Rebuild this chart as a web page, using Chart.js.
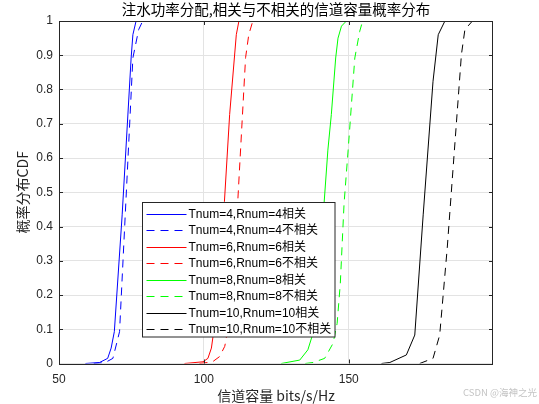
<!DOCTYPE html>
<html lang="zh">
  <head>
    <meta charset="UTF-8" />
    <title>注水功率分配 信道容量CDF</title>
    <script src="https://cdn.jsdelivr.net/npm/chart.js"></script>
    <style>
      html, body { margin: 0; padding: 0; background: #ffffff; }
      #wrap { width: 539px; height: 404px; }
    </style>
  </head>
  <body>
    <div id="wrap"><canvas id="cdf" width="539" height="404"></canvas></div>
    <script>
      // 信道容量 (bits/s/Hz) 与对应的 CDF 值
      const capT4Corr = [59.1, 64.0, 66.8, 68.0, 69.1, 71.8, 74.9, 75.5, 76.6];
      const cdfT4Corr = [0, 0.003, 0.015, 0.045, 0.093, 0.434, 0.892, 0.96, 1.0];
      const capT4Uncorr = [62.0, 66.0, 68.6, 70.9, 75.5, 77.5, 78.9];
      const cdfT4Uncorr = [0, 0.003, 0.015, 0.093, 0.892, 0.975, 1.0];

      const capT6Corr = [93.3, 99.7, 101.4, 102.6, 103.1, 107.1, 108.9, 111.2, 112.1];
      const cdfT6Corr = [0, 0.005, 0.015, 0.045, 0.075, 0.473, 0.727, 0.96, 1.0];
      const capT6Uncorr = [98.5, 103.0, 105.4, 107.2, 107.7, 111.7, 114.4, 115.5, 116.9];
      const cdfT6Uncorr = [0, 0.005, 0.02, 0.05, 0.07, 0.473, 0.893, 0.96, 1.0];

      const capT8Corr = [126.7, 133.1, 135.9, 137.3, 141.5, 142.8, 144.0, 145.5, 146.3, 147.5, 149.2];
      const cdfT8Corr = [0, 0.01, 0.04, 0.078, 0.468, 0.623, 0.727, 0.892, 0.95, 0.985, 1.0];
      const capT8Uncorr = [135.0, 137.7, 141.7, 144.6, 146.0, 147.1, 148.4, 149.8, 152.1, 153.8, 154.8];
      const cdfT8Uncorr = [0, 0.003, 0.015, 0.059, 0.117, 0.234, 0.468, 0.623, 0.892, 0.97, 1.0];

      const capT10Corr = [161.3, 164.2, 169.9, 172.8, 175.7, 179.1, 180.9, 183.2];
      const cdfT10Corr = [0, 0.003, 0.025, 0.083, 0.434, 0.824, 0.96, 1.0];
      const capT10Uncorr = [174.5, 179.1, 181.4, 184.0, 188.9, 190.1, 192.7];
      const cdfT10Uncorr = [0, 0.015, 0.083, 0.337, 0.902, 0.975, 1.0];

      const seriesNames = [
        "Tnum=4,Rnum=4相关", "Tnum=4,Rnum=4不相关",
        "Tnum=6,Rnum=6相关", "Tnum=6,Rnum=6不相关",
        "Tnum=8,Rnum=8相关", "Tnum=8,Rnum=8不相关",
        "Tnum=10,Rnum=10相关", "Tnum=10,Rnum=10不相关",
      ];
      const xTicks = [50, 100, 150];
      const yTicks = [0, 0.1, 0.2, 0.3, 0.4, 0.5, 0.6, 0.7, 0.8, 0.9, 1];
      const yTickLabels = ["0", "0.1", "0.2", "0.3", "0.4", "0.5", "0.6", "0.7", "0.8", "0.9", "1"];
      const chartTitle = "注水功率分配,相关与不相关的信道容量概率分布";

      const FONT = "'Liberation Sans', 'Noto Sans CJK SC', sans-serif";
      const CJK = "'Noto Sans CJK SC', 'Liberation Sans', sans-serif";
      const DASH = [8, 6];

      function pts(xs, ys) {
        return xs.map((x, i) => ({ x: x, y: ys[i] }));
      }

      function line(label, xs, ys, color, dashed) {
        return {
          label: label,
          data: pts(xs, ys),
          showLine: true,
          borderColor: color,
          backgroundColor: color,
          borderWidth: 1,
          borderDash: dashed ? DASH : [],
          pointRadius: 0,
          tension: 0,
          fill: false,
        };
      }

      // 标题, 坐标框, 内向刻度, 图例和水印
      const frame = {
        id: "frame",
        afterDraw(chart) {
          const { ctx, chartArea: a, scales } = chart;
          const sx = scales.x, sy = scales.y;
          ctx.save();

          ctx.font = "14.5px " + CJK;
          ctx.fillStyle = "#000000";
          ctx.textAlign = "center";
          ctx.textBaseline = "middle";
          ctx.fillText(chartTitle, (a.left + a.right) / 2, 9.5);

          ctx.strokeStyle = "#262626";
          ctx.lineWidth = 1;
          ctx.setLineDash([]);
          ctx.strokeRect(Math.round(a.left) + 0.5, Math.round(a.top) + 0.5,
            Math.round(a.right - a.left) - 1, Math.round(a.bottom - a.top));
          ctx.beginPath();
          xTicks.forEach((v) => {
            const px = Math.round(sx.getPixelForValue(v)) + 0.5;
            ctx.moveTo(px, a.bottom); ctx.lineTo(px, a.bottom - 4);
            ctx.moveTo(px, a.top); ctx.lineTo(px, a.top + 4);
          });
          yTicks.forEach((v) => {
            const py = Math.round(sy.getPixelForValue(v)) + 0.5;
            ctx.moveTo(a.left, py); ctx.lineTo(a.left + 4, py);
            ctx.moveTo(a.right, py); ctx.lineTo(a.right - 4, py);
          });
          ctx.stroke();

          // 图例
          const lx = 142.5, ly = 202.5, lw = 192.5, lh = 134.5;
          ctx.fillStyle = "#ffffff";
          ctx.fillRect(lx, ly, lw, lh);
          ctx.strokeStyle = "#262626";
          ctx.strokeRect(lx, ly, lw, lh);
          ctx.font = "12px " + FONT;
          ctx.textBaseline = "middle";
          ctx.textAlign = "left";
          chart.data.datasets.forEach((ds, i) => {
            const ry = Math.round(ly + 11 + i * 16.57) + 0.5;
            ctx.strokeStyle = ds.borderColor;
            ctx.setLineDash(ds.borderDash);
            ctx.beginPath();
            ctx.moveTo(lx + 4, ry);
            ctx.lineTo(lx + 44, ry);
            ctx.stroke();
            ctx.setLineDash([]);
            ctx.fillStyle = "#000000";
            ctx.fillText(ds.label, lx + 46, ry + 0.5);
          });

          // 水印
          ctx.font = "9.5px " + CJK;
          ctx.fillStyle = "#c4c4c4";
          ctx.textAlign = "right";
          ctx.fillText("CSDN @海神之光", 537, 392);
          ctx.restore();
        },
      };

      new Chart(document.getElementById("cdf"), {
        type: "scatter",
        data: {
          datasets: [
            line(seriesNames[0], capT4Corr, cdfT4Corr, "#0000ff", false),
            line(seriesNames[1], capT4Uncorr, cdfT4Uncorr, "#0000ff", true),
            line(seriesNames[2], capT6Corr, cdfT6Corr, "#ff0000", false),
            line(seriesNames[3], capT6Uncorr, cdfT6Uncorr, "#ff0000", true),
            line(seriesNames[4], capT8Corr, cdfT8Corr, "#00ff00", false),
            line(seriesNames[5], capT8Uncorr, cdfT8Uncorr, "#00ff00", true),
            line(seriesNames[6], capT10Corr, cdfT10Corr, "#000000", false),
            line(seriesNames[7], capT10Uncorr, cdfT10Uncorr, "#000000", true),
          ],
        },
        options: {
          responsive: false,
          animation: false,
          layout: { padding: { left: 0, right: 46, top: 21, bottom: 0 } },
          plugins: {
            legend: { display: false },
            tooltip: { enabled: false },
          },
          scales: {
            x: {
              type: "linear",
              min: 50,
              max: 199.8,
              afterBuildTicks: (s) => { s.ticks = xTicks.map((v) => ({ value: v })); },
              afterFit: (s) => { s.height = 40.5; },
              grid: { color: "#e3e3e3", drawTicks: false },
              border: { display: false },
              ticks: {
                color: "#262626",
                padding: 9,
                maxRotation: 0,
                font: { family: FONT, size: 12 },
              },
              title: {
                display: true,
                text: "信道容量 bits/s/Hz",
                color: "#262626",
                font: { family: CJK, size: 14 },
                padding: { top: 0, bottom: 0 },
              },
            },
            y: {
              min: 0,
              max: 1,
              afterBuildTicks: (s) => { s.ticks = yTicks.map((v) => ({ value: v })); },
              afterFit: (s) => { s.width = 59; },
              grid: { color: "#e3e3e3", drawTicks: false },
              border: { display: false },
              ticks: {
                color: "#262626",
                padding: 6,
                font: { family: FONT, size: 12 },
                callback: (v, i) => yTickLabels[i],
              },
              title: {
                display: true,
                text: "概率分布CDF",
                color: "#262626",
                font: { family: CJK, size: 14 },
                padding: { top: 14, bottom: 0 },
              },
            },
          },
        },
        plugins: [frame],
      });
    </script>
  </body>
</html>
